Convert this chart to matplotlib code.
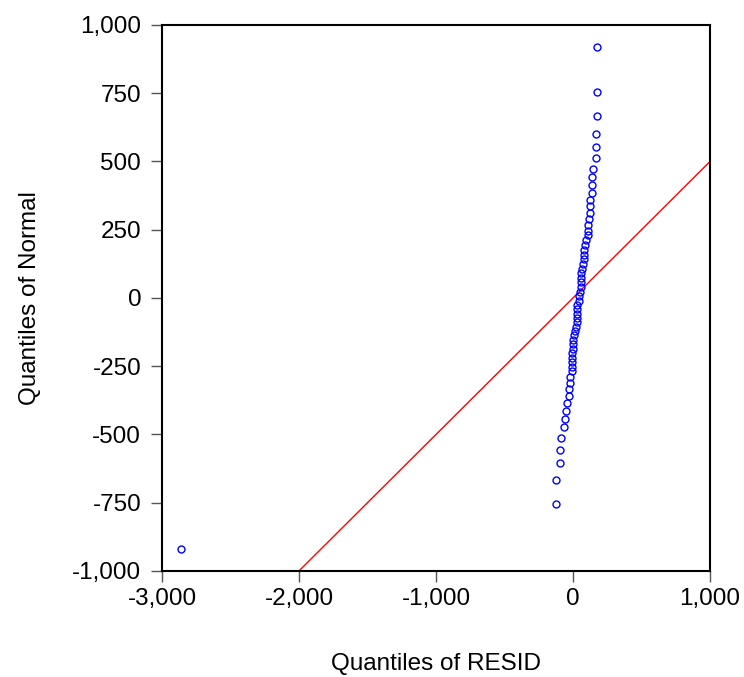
import matplotlib
matplotlib.use('Agg')
import matplotlib.pyplot as plt
from matplotlib.ticker import FuncFormatter

plt.rcParams['font.family'] = ['Liberation Sans', 'DejaVu Sans']

# -------------------- Data --------------------
# sorted residuals (x) against normal quantiles (y)
resid_q = [-2861, -126, -122, -93, -93, -90, -64, -61, -53, -44,
           -31, -29, -24, -20, -7, -7, -6, -5, -5, -2,
           2, 2, 9, 15, 22, 27, 27, 29, 29, 31,
           42, 46, 51, 55, 58, 58, 61, 64, 73, 80,
           82, 82, 90, 93, 107, 109, 112, 117, 122, 124,
           126, 136, 139, 139, 148, 166, 168, 170, 173, 175, 175]
normal_q = [-919, -753, -667, -603, -556, -512, -474, -442, -413, -385,
            -359, -333, -311, -289, -268, -252, -234, -219, -201, -186,
            -170, -154, -137, -122, -105, -89, -73, -58, -41, -26,
            -10, 7, 23, 42, 59, 74, 90, 106, 123, 142,
            159, 176, 193, 211, 230, 246, 268, 289, 312, 336,
            359, 385, 413, 443, 473, 511, 553, 602, 666, 753, 920]

# reference line end points
line_x = [-2000, 1000]
line_y = [-1000, 500]

x_ticks = [-3000, -2000, -1000, 0, 1000]
y_ticks = [-1000, -750, -500, -250, 0, 250, 500, 750, 1000]

# -------------------- Plot --------------------
fig = plt.figure(figsize=(7.44, 6.77), dpi=100)
ax = fig.add_axes([0.2177, 0.1566, 0.7366, 0.8065])

ax.plot(line_x, line_y, color='red', linewidth=1)
ax.plot(resid_q, normal_q, linestyle='none', marker='o', markersize=5,
        markerfacecolor='none', markeredgecolor='blue', markeredgewidth=1)

ax.set_xlim(-3000, 1000)
ax.set_ylim(-1000, 1000)
ax.set_xticks(x_ticks)
ax.set_yticks(y_ticks)
fmt = FuncFormatter(lambda v, p: f"{int(v):,}")
ax.xaxis.set_major_formatter(fmt)
ax.yaxis.set_major_formatter(fmt)

ax.tick_params(direction='out', length=8, width=1, color='#555555',
               labelsize=17.5)
ax.tick_params(axis='y', pad=7)
ax.tick_params(axis='x', pad=4)
for s in ax.spines.values():
    s.set_linewidth(1.5)

ax.set_xlabel('Quantiles of RESID', fontsize=17.5, labelpad=31)
ax.set_ylabel('Quantiles of Normal', fontsize=17.5, labelpad=22)

fig.savefig('out.png', dpi=100)
